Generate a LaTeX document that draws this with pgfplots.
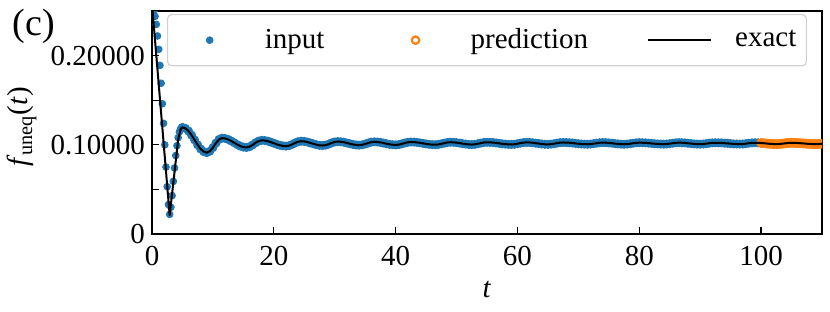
\documentclass[border=0pt]{standalone}
\usepackage{fontspec}
\setmainfont{Liberation Serif}
\usepackage{pgfplots}
\usepackage{pgfplotstable}
\pgfplotsset{compat=1.18}
\definecolor{mblue}{HTML}{1F77B4}
\definecolor{morange}{HTML}{FF7F0E}
\pgfplotsset{
  dotleg/.style={legend image code/.code={\path (0pt,0pt) (31.5pt,0pt); \draw[##1] plot coordinates {(15.75pt,0pt)};}},
  lineleg/.style={legend image code/.code={\draw[##1, line cap=butt] (0pt,0pt) -- (31.5pt,0pt);}},
}

\pgfplotstableread{
t f
0.1 0.254
0.3 0.250
0.5 0.244
0.7 0.235
0.9 0.222
1.1 0.207
1.3 0.189
1.5 0.169
1.7 0.146
1.9 0.124
2.1 0.100
2.3 0.075
2.5 0.053
2.7 0.033
2.9 0.022
3.1 0.030
3.3 0.043
3.5 0.059
3.7 0.074
3.9 0.088
4.1 0.099
4.3 0.108
4.5 0.1145
4.7 0.118
4.9 0.1193
}\early

\pgfplotstableread{
t f
5.0 0.1195
5.5 0.1184
6.0 0.1154
6.5 0.1108
7.0 0.1054
7.5 0.0999
8.0 0.0953
8.5 0.0923
9.0 0.0912
9.5 0.0928
10.0 0.0968
10.5 0.1019
11.0 0.1060
11.5 0.1075
12.0 0.1071
12.5 0.1060
13.0 0.1043
13.5 0.1023
14.0 0.1002
14.5 0.0985
15.0 0.0974
15.5 0.0970
16.0 0.0978
16.5 0.0998
17.0 0.1022
17.5 0.1042
18.0 0.1050
18.5 0.1048
19.0 0.1041
19.5 0.1030
20.0 0.1018
20.5 0.1005
21.0 0.0995
21.5 0.0988
22.0 0.0985
22.5 0.0990
23.0 0.1004
23.5 0.1021
24.0 0.1035
24.5 0.1040
25.0 0.1038
25.5 0.1031
26.0 0.1021
26.5 0.1011
27.0 0.1001
27.5 0.0994
28.0 0.0992
28.5 0.0996
29.0 0.1007
29.5 0.1021
30.0 0.1032
30.5 0.1036
31.0 0.1034
31.5 0.1029
32.0 0.1020
32.5 0.1012
33.0 0.1004
33.5 0.0998
34.0 0.0996
34.5 0.1000
35.0 0.1009
35.5 0.1020
36.0 0.1030
36.5 0.1033
37.0 0.1031
37.5 0.1027
38.0 0.1020
38.5 0.1012
39.0 0.1005
39.5 0.1001
40.0 0.0999
40.5 0.1002
41.0 0.1010
41.5 0.1020
42.0 0.1028
42.5 0.1031
43.0 0.1030
43.5 0.1027
44.0 0.1022
44.5 0.1016
45.0 0.1010
45.5 0.1005
46.0 0.1002
46.5 0.1001
47.0 0.1004
47.5 0.1011
48.0 0.1019
48.5 0.1026
49.0 0.1029
49.5 0.1028
50.0 0.1024
50.5 0.1019
51.0 0.1013
51.5 0.1008
52.0 0.1004
52.5 0.1003
53.0 0.1005
53.5 0.1012
54.0 0.1019
54.5 0.1026
55.0 0.1028
55.5 0.1027
56.0 0.1025
56.5 0.1021
57.0 0.1016
57.5 0.1011
58.0 0.1008
58.5 0.1005
59.0 0.1004
59.5 0.1006
60.0 0.1012
60.5 0.1019
61.0 0.1025
61.5 0.1027
62.0 0.1026
62.5 0.1023
63.0 0.1018
63.5 0.1014
64.0 0.1009
64.5 0.1006
65.0 0.1005
65.5 0.1007
66.0 0.1012
66.5 0.1019
67.0 0.1024
67.5 0.1026
68.0 0.1025
68.5 0.1023
69.0 0.1020
69.5 0.1016
70.0 0.1012
70.5 0.1009
71.0 0.1007
71.5 0.1006
72.0 0.1008
72.5 0.1013
73.0 0.1018
73.5 0.1023
74.0 0.1025
74.5 0.1024
75.0 0.1021
75.5 0.1018
76.0 0.1013
76.5 0.1010
77.0 0.1007
77.5 0.1006
78.0 0.1008
78.5 0.1012
79.0 0.1018
79.5 0.1022
80.0 0.1024
80.5 0.1023
81.0 0.1022
81.5 0.1019
82.0 0.1016
82.5 0.1012
83.0 0.1010
83.5 0.1008
84.0 0.1007
84.5 0.1009
85.0 0.1013
85.5 0.1018
86.0 0.1022
86.5 0.1024
87.0 0.1023
87.5 0.1021
88.0 0.1017
88.5 0.1014
89.0 0.1010
89.5 0.1008
90.0 0.1007
90.5 0.1009
91.0 0.1013
91.5 0.1018
92.0 0.1022
92.5 0.1023
93.0 0.1022
93.5 0.1021
94.0 0.1018
94.5 0.1016
95.0 0.1013
95.5 0.1010
96.0 0.1009
96.5 0.1008
97.0 0.1009
97.5 0.1013
98.0 0.1018
98.5 0.1022
99.0 0.1023
99.5 0.1022
100.0 0.1020
}\main

\pgfplotstableread{
t f
100.0 0.1020
100.25 0.1019
100.5 0.1017
100.75 0.10155
101.0 0.1014
101.25 0.1012
101.5 0.1011
101.75 0.1010
102.0 0.1009
102.25 0.1008
102.5 0.1008
102.75 0.1008
103.0 0.1009
103.25 0.1011
103.5 0.1013
103.75 0.1015
104.0 0.1017
104.25 0.1019
104.5 0.1021
104.75 0.1022
105.0 0.1022
105.25 0.1022
105.5 0.1021
105.75 0.1021
106.0 0.1020
106.25 0.1019
106.5 0.1018
106.75 0.1016
107.0 0.1015
107.25 0.1014
107.5 0.1012
107.75 0.1011
108.0 0.1010
108.25 0.1009
108.5 0.1009
108.75 0.1008
109.0 0.1008
109.25 0.1008
109.5 0.1009
109.75 0.1011
110.0 0.1012
}\pred

\begin{document}
\begin{tikzpicture}[font=\fontsize{14.5pt}{17pt}\selectfont]
\path[use as bounding box] (-76pt,-38.5pt) rectangle (339pt,117pt);
\begin{axis}[
  at={(0pt,0pt)}, anchor=south west,
  scale only axis, width=335pt, height=111.5pt,
  xmin=0, xmax=110, ymin=0, ymax=0.25,
  xtick={0,20,40,60,80,100},
  ytick={0,0.05,0.1,0.15,0.2},
  yticklabels={0,,0.10000,,0.20000},
  tick align=inside,
  tick pos=left,
  major tick length=3.5pt,
  every tick/.style={black, line width=0.6pt},
  axis line style={line width=0.8pt},
  /pgf/number format/assume math mode=true,
  xticklabel style={yshift=-2.5pt},
  clip marker paths=true,
  xlabel={\textit{t}},
  ylabel={\textit{f}\textsubscript{uneq}(\textit{t})},
  xlabel style={at={(axis description cs:0.5,-0.247)}, anchor=center},
  ylabel style={at={(axis description cs:-0.194,0.48)}, anchor=center},
  legend columns=3,
  legend cell align=left,
  legend style={
    at={(axis description cs:0.0224,0.9865)}, anchor=north west,
    draw=black!18, line width=0.6pt, rounded corners=2pt, fill=white,
    inner xsep=5pt, inner ysep=7pt,
    nodes={inner sep=0pt},
    /tikz/every odd column/.append style={column sep=11.5pt},
    /tikz/every even column/.append style={column sep=29.5pt},
  },
]
\addplot[mblue, only marks, mark=*, mark size=1.7pt, mark options={solid, fill=mblue, draw=mblue, line width=0.4pt}, dotleg] table {\early};
\addlegendentry{input}
\addplot[mblue, only marks, mark=*, mark size=2.0pt, mark options={solid, fill=mblue, draw=mblue, line width=0.5pt}, forget plot] table {\main};
\addplot[morange, only marks, mark=o, mark size=1.85pt, mark options={solid, draw=morange, line width=1.1pt}, dotleg] table {\pred};
\addlegendentry{prediction}
\addplot[black, line width=1pt, line join=round, line cap=round, lineleg]
  coordinates {(0,0.258) (2.9,0.021) (4.3,0.106) (4.7,0.1175) (4.9,0.1193) (5.0,0.1195)};
\addlegendentry{exact}
\addplot[black, line width=1pt, line join=round, line cap=round, forget plot] table {\main};
\addplot[black, line width=1pt, line join=round, line cap=round, forget plot] table {\pred};
\end{axis}
\node[font=\fontsize{19pt}{22pt}\selectfont] at (-59pt,104pt) {(c)};
\end{tikzpicture}
\end{document}
